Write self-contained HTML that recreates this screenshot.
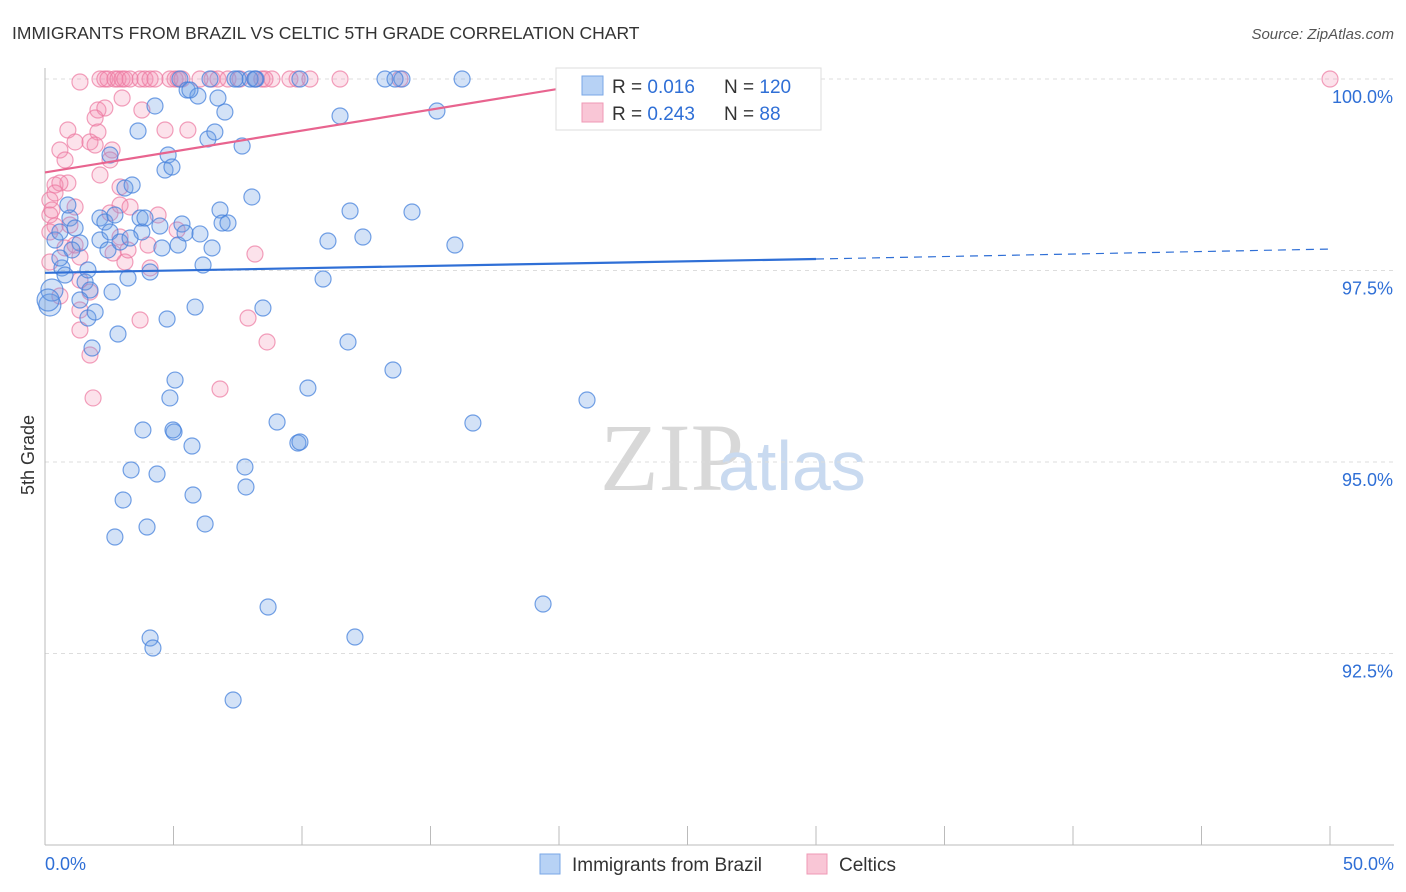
<!DOCTYPE html>
<html><head><meta charset="utf-8"><style>
body{margin:0;background:#fff;font-family:"Liberation Sans",sans-serif;}
svg{display:block}
</style></head><body>
<svg width="1406" height="892" viewBox="0 0 1406 892" id="chart">
<text x="12" y="39" font-size="17.5" fill="#333">IMMIGRANTS FROM BRAZIL VS CELTIC 5TH GRADE CORRELATION CHART</text>
<text x="1394" y="39" font-size="15" fill="#555" font-style="italic" text-anchor="end">Source: ZipAtlas.com</text>
<text x="600" y="490" font-size="96" fill="#d8d8d8" font-family="Liberation Serif,serif">ZIP</text>
<text x="718" y="490" font-size="70" fill="#c9daf0">atlas</text>
<text transform="translate(34,455) rotate(-90)" font-size="18" fill="#333" text-anchor="middle">5th Grade</text>
<g id="grid"></g><g id="axes"></g><g id="marks"></g>
<g>
<rect x="556" y="68" width="265" height="62" fill="#fff" stroke="#ddd"/>
<rect x="582" y="76" width="21" height="19" fill="#b7d2f5" stroke="#7aa7e6"/>
<rect x="582" y="103" width="21" height="19" fill="#f9c6d6" stroke="#ef98b5"/>
<text x="612" y="93" font-size="19" fill="#333">R = <tspan fill="#2f6fd6">0.016</tspan></text>
<text x="724" y="93" font-size="19" fill="#333">N = <tspan fill="#2f6fd6">120</tspan></text>
<text x="612" y="120" font-size="19" fill="#333">R = <tspan fill="#2f6fd6">0.243</tspan></text>
<text x="724" y="120" font-size="19" fill="#333">N = <tspan fill="#2f6fd6">  88</tspan></text>
</g>
<g>
<rect x="540" y="854" width="20" height="20" fill="#b7d2f5" stroke="#7aa7e6"/>
<text x="572" y="871" font-size="19" fill="#333">Immigrants from Brazil</text>
<rect x="807" y="854" width="20" height="20" fill="#f9c6d6" stroke="#ef98b5"/>
<text x="839" y="871" font-size="19" fill="#333">Celtics</text>
</g>
</svg>
<script>
const yTicks=[100,97.5,95,92.5];
const yTickLabels=["100.0%","97.5%","95.0%","92.5%"];
const xEnds=["0.0%","50.0%"];
const bluePx=[[50,305],[52,290],[48,300],[55,240],[60,232],[62,268],[65,275],[70,218],[75,228],[68,205],[80,243],[72,250],[85,282],[88,318],[90,290],[95,312],[80,300],[92,348],[100,240],[100,218],[105,222],[108,250],[110,232],[110,155],[112,292],[115,215],[120,242],[118,334],[125,188],[128,278],[132,185],[138,131],[140,218],[142,232],[145,218],[150,272],[155,106],[160,226],[162,248],[165,170],[167,319],[168,155],[170,398],[172,167],[174,432],[175,380],[178,245],[180,79],[182,224],[185,233],[187,90],[192,446],[193,495],[195,307],[198,96],[200,234],[203,265],[205,524],[208,139],[212,248],[215,132],[218,98],[220,210],[222,223],[225,112],[228,223],[233,700],[238,79],[242,146],[245,467],[246,487],[252,197],[256,79],[263,308],[268,607],[277,422],[298,443],[300,442],[300,79],[308,388],[323,279],[328,241],[340,116],[348,342],[350,211],[355,637],[363,237],[385,79],[393,370],[402,79],[412,212],[437,111],[455,245],[462,79],[473,423],[543,604],[587,400],[131,470],[157,474],[143,430],[173,430],[123,500],[115,537],[147,527],[150,638],[153,648],[190,90],[210,79],[250,79],[255,79],[235,79],[130,238],[88,270],[60,258],[745,79],[395,79]];
const pinkPx=[[80,82],[100,79],[105,79],[108,79],[115,79],[118,79],[122,79],[125,79],[130,79],[140,79],[145,79],[150,79],[155,79],[170,79],[175,79],[178,79],[182,79],[212,79],[218,79],[228,79],[240,79],[255,79],[262,79],[272,79],[290,79],[297,79],[310,79],[340,79],[400,79],[1330,79],[98,110],[105,108],[122,98],[95,118],[68,130],[98,132],[165,130],[188,130],[75,142],[90,142],[60,150],[95,145],[112,150],[65,160],[110,160],[68,183],[55,185],[60,183],[120,187],[50,200],[55,193],[75,207],[50,215],[110,213],[120,205],[130,207],[158,215],[55,226],[70,225],[148,245],[75,245],[50,262],[80,257],[125,262],[255,254],[80,280],[90,292],[60,296],[80,310],[248,318],[140,320],[80,330],[90,355],[267,342],[220,389],[93,398],[50,232],[65,248],[113,253],[128,250],[150,268],[52,210],[100,175],[142,110],[200,79],[265,79],[177,230],[120,237]];
// convert picture readings to data values (x in %, y in %)
const blueX=bluePx.map(p=>+((p[0]-45)/1285*50).toFixed(2));
const blueY=bluePx.map(p=>+(100-(p[1]-79)/191.5*2.5).toFixed(3));
const pinkX=pinkPx.map(p=>+((p[0]-45)/1285*50).toFixed(2));
const pinkY=pinkPx.map(p=>+(100-(p[1]-79)/191.5*2.5).toFixed(3));
const blueTrend=[97.47,97.65,97.78]; // at x=0, 30, 50
const pinkTrend=[98.78,99.96];       // at x=0, 21.6
const sx=v=>45+v/50*1285;
const sy=v=>79+(100-v)/2.5*191.5;
const NS="http://www.w3.org/2000/svg";
function mk(t,a,p){const e=document.createElementNS(NS,t);for(const k in a)e.setAttribute(k,a[k]);p.appendChild(e);return e;}
const grid=document.getElementById('grid'),axes=document.getElementById('axes'),marks=document.getElementById('marks');
yTicks.forEach((v,i)=>{
  const l=mk('line',{x1:45,x2:1394,y1:sy(v),y2:sy(v),stroke:'#ddd','stroke-dasharray':'4,4'},grid);
  
  
  const t=mk('text',{x:1393,y:sy(v)+24,'font-size':18,fill:'#2f6fd6','text-anchor':'end'},axes);
  t.textContent=yTickLabels[i];
  
  
});
const xa=mk('line',{x1:45,x2:1394,y1:845,y2:845,stroke:'#bbb'},axes);


const ya=mk('line',{x1:45,x2:45,y1:68,y2:845,stroke:'#bbb'},axes);


for(let i=0;i<=10;i++){
  const tk=mk('line',{x1:sx(i*5),x2:sx(i*5),y1:826,y2:845,stroke:'#bbb'},axes);
  
  
}
[[0,xEnds[0],'start',45],[50,xEnds[1],'end',1394]].forEach(d=>{
  const t=mk('text',{x:d[3],y:870,'font-size':18,fill:'#2f6fd6','text-anchor':d[2]},axes);
  t.textContent=d[1];
  
  
});
pinkX.forEach((x,i)=>{
  const c=mk('circle',{cx:sx(x),cy:sy(pinkY[i]),r:8,fill:'rgba(242,140,175,0.25)',stroke:'rgba(236,120,160,0.7)','stroke-width':1.2},marks);
  
  
});
blueX.forEach((x,i)=>{
  const c=mk('circle',{cx:sx(x),cy:sy(blueY[i]),r:(i<3?11:8),fill:'rgba(110,160,230,0.3)',stroke:'rgba(70,130,220,0.75)','stroke-width':1.2},marks);
  
  
});
const bl=mk('line',{x1:sx(0),y1:sy(blueTrend[0]),x2:sx(30),y2:sy(blueTrend[1]),stroke:'#2f6fd6','stroke-width':2.2},marks);


const bd=mk('line',{x1:sx(30),y1:sy(blueTrend[1]),x2:sx(50),y2:sy(blueTrend[2]),stroke:'#2f6fd6','stroke-width':1.2,'stroke-dasharray':'8,6'},marks);


const pl=mk('line',{x1:sx(0),y1:sy(pinkTrend[0]),x2:sx(21.6),y2:sy(pinkTrend[1]),stroke:'#e8648f','stroke-width':2.2},marks);


</script>
</body></html>
